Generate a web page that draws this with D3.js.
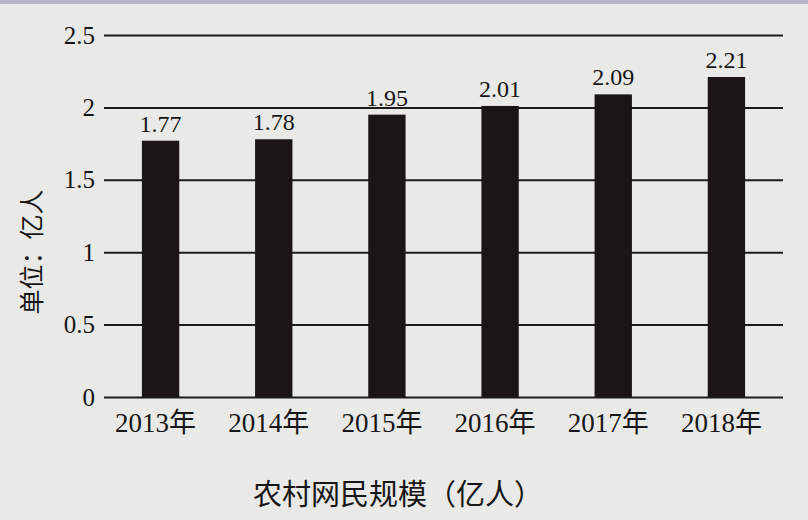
<!DOCTYPE html>
<html>
<head>
<meta charset="utf-8">
<script src="https://cdn.jsdelivr.net/npm/d3@7/dist/d3.min.js"></script>
<style>
body{margin:0;background:#e8e8e6;}
svg{display:block;}
</style>
</head>
<body>
<div id="chart"></div>
<script>
var years = ["2013年","2014年","2015年","2016年","2017年","2018年"];
var users = [1.77,1.78,1.95,2.01,2.09,2.21];
var yTicks = [0,0.5,1,1.5,2,2.5];

var chart_w = 808, chart_h = 520;
var plotLeft = 104, plotRight = 783, plotTop = 35, plotBottom = 397;

var svg = d3.select("#chart").append("svg")
	.attr("width", chart_w)
	.attr("height", chart_h);

// paper background + top strip
svg.append("rect").attr("width", chart_w).attr("height", chart_h).attr("fill", "#e9e9e7");
svg.append("rect").attr("width", chart_w).attr("height", 4).attr("fill", "#b9b6cc");

var x = d3.scaleBand()
	.domain(years)
	.range([plotLeft, plotRight])
	.paddingInner(0.67)
	.paddingOuter(0.335);

var y = d3.scaleLinear()
	.domain([0, 2.5])
	.range([plotBottom, plotTop]);

// gridlines
var yAxis = d3.axisLeft(y)
	.tickValues(yTicks)
	.tickSize(-(plotRight - plotLeft))
	.tickPadding(9)
	.tickFormat(function(d){ return d; });

var gy = svg.append("g")
	.attr("transform", "translate(" + plotLeft + ",0)")
	.call(yAxis);
gy.select(".domain").remove();
gy.selectAll("line").attr("stroke", "#1c1c1c").attr("stroke-width", 2);
gy.selectAll("text")
	.attr("font-family", "'Liberation Serif', serif")
	.attr("font-size", 25)
	.attr("fill", "#161616");

// bars
svg.append("g")
	.selectAll("rect")
	.data(users)
	.enter()
	.append("rect")
	.attr("x", function(d, i){ return x(years[i]); })
	.attr("y", function(d){ return y(d); })
	.attr("width", x.bandwidth())
	.attr("height", function(d){ return y(0) - y(d); })
	.attr("fill", "#1a1618");

// value labels
svg.append("g")
	.selectAll("text")
	.data(users)
	.enter()
	.append("text")
	.attr("x", function(d, i){ return x(years[i]) + x.bandwidth() / 2; })
	.attr("y", function(d){ return y(d) - 9; })
	.attr("text-anchor", "middle")
	.attr("font-family", "'Liberation Serif', serif")
	.attr("font-size", 24)
	.attr("fill", "#161616")
	.text(function(d){ return d.toFixed(2); });

// x axis
var xAxis = d3.axisBottom(x).tickSize(0).tickPadding(16);
var gx = svg.append("g")
	.attr("transform", "translate(0," + plotBottom + ")")
	.call(xAxis);
gx.select(".domain").remove();
gx.selectAll("text")
	.attr("font-family", "'Liberation Serif', 'Noto Sans CJK SC', serif")
	.attr("font-size", 27)
	.attr("fill", "#161616")
	.attr("dx", -5);

// titles
svg.append("text")
	.attr("x", 398)
	.attr("y", 505)
	.attr("text-anchor", "middle")
	.attr("font-family", "'Noto Sans CJK SC', sans-serif")
	.attr("font-size", 29)
	.attr("fill", "#161616")
	.text("农村网民规模（亿人）");

svg.append("text")
	.attr("transform", "translate(41,252) rotate(-90)")
	.attr("text-anchor", "middle")
	.attr("font-family", "'Noto Sans CJK SC', sans-serif")
	.attr("font-size", 25)
	.attr("fill", "#161616")
	.text("单位：亿人");
</script>
</body>
</html>
